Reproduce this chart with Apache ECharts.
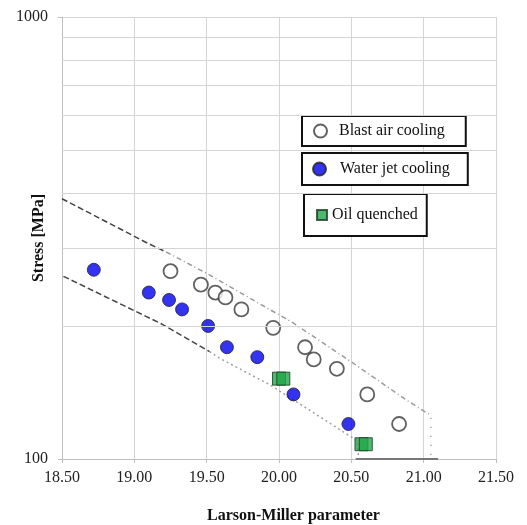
<!DOCTYPE html>
<html>
<head>
<meta charset="utf-8">
<script src="https://cdn.jsdelivr.net/npm/echarts@6/dist/echarts.min.js"></script>
<style>html,body{margin:0;padding:0;background:#fff}#c{width:527px;height:525px}</style>
</head>
<body>
<div id="c"></div>
<script>
// ---- data ----
const blastAir = [[19.25,266],[19.46,248],[19.56,238],[19.63,232],[19.74,218],[19.96,198],[20.18,179],[20.24,168],[20.40,160],[20.61,140],[20.83,120]];
const waterJet = [[18.72,268],[19.10,238],[19.24,229],[19.33,218],[19.51,200],[19.64,179],[19.85,170],[20.10,140],[20.48,120]];
const oilQuenched = [[20.00,152],[20.03,152],[20.57,108],[20.60,108]];
// scatter band boundaries
const upperDark = [[18.50,388],[19.09,308],[19.22,294]];
const upperLight = [[19.22,294],[19.50,263],[20.10,203],[20.51,165],[20.88,136],[21.04,126]];
const rightEdge = [[21.05,124],[21.05,102]];
const bottomEdge = [[20.53,100],[21.10,100]];
const lowerDark = [[18.51,259],[19.19,202],[19.52,175]];
const lowerLight = [[19.52,175],[19.59,169],[19.94,147],[20.54,110],[20.55,101]];
// axes
const xMin = 18.5, xMax = 21.5, xStep = 0.5;
const yMin = 100, yMax = 1000;
const yMinorGrid = [200,300,400,500,600,700,800,900];

const FONT = "'Liberation Serif','Times New Roman',serif";
const chart = echarts.init(document.getElementById('c'), null, {renderer:'canvas'});

function bandLine(data, color, type, width){
  return {type:'line', data:data, symbol:'none', silent:true, z:1,
    lineStyle:{color:color, type:type, width:width}, animation:false, legendHoverLink:false};
}

const legendBase = {
  orient:'horizontal', itemGap:0, selectedMode:false,
  borderColor:'#111', borderWidth:2, backgroundColor:'#fff',
};

chart.setOption({
  animation:false,
  grid:{left:62, right:31, top:17, bottom:66, containLabel:false, outerBoundsMode:'none'},
  xAxis:{
    type:'value', min:xMin, max:xMax, interval:xStep,
    name:'Larson-Miller parameter', nameLocation:'middle', nameGap:49, nameMoveOverlap:false,
    nameTextStyle:{fontFamily:FONT, fontSize:16, fontWeight:'bold', color:'#111', padding:[0,0,0,29]},
    axisLine:{show:true, lineStyle:{color:'#bfbfbf', width:1}},
    axisTick:{show:true, length:4, lineStyle:{color:'#bfbfbf'}},
    axisLabel:{fontFamily:FONT, fontSize:16, color:'#222', margin:11, formatter:v=>v.toFixed(2)},
    splitLine:{show:true, lineStyle:{color:'#d4d4d4', width:1}}
  },
  yAxis:{
    type:'log', logBase:10, min:yMin, max:yMax,
    name:'Stress [MPa]', nameLocation:'middle', nameGap:15, nameRotate:90, nameMoveOverlap:false,
    nameTextStyle:{fontFamily:FONT, fontSize:16, fontWeight:'bold', color:'#111'},
    axisLine:{show:true, lineStyle:{color:'#bfbfbf', width:1}},
    axisTick:{show:true, length:4, lineStyle:{color:'#bfbfbf'}},
    axisLabel:{fontFamily:FONT, fontSize:16, color:'#222', margin:14, formatter:v=>String(Math.round(v))},
    splitLine:{show:true, lineStyle:{color:'#d4d4d4', width:1}}
  },
  legend:[
    Object.assign({}, legendBase, {data:['Blast air cooling'], left:302, top:116,
      padding:[7,21,7,11], itemWidth:13, itemHeight:13,
      textStyle:{fontFamily:FONT, fontSize:16, color:'#111', padding:[0,0,0,7]}}),
    Object.assign({}, legendBase, {data:['Water jet cooling'], left:302, top:153,
      padding:[8,18,8,10], itemWidth:13, itemHeight:13,
      textStyle:{fontFamily:FONT, fontSize:16, color:'#111', padding:[0,0,0,9]}}),
    Object.assign({}, legendBase, {data:['Oil quenched'], left:304, top:194,
      padding:[13,9,13,12], itemWidth:10, itemHeight:10,
      textStyle:{fontFamily:FONT, fontSize:16, color:'#111'}})
  ],
  series:[
    {type:'line', data:[], silent:true, symbol:'none', z:0,
      markLine:{silent:true, symbol:'none', label:{show:false}, animation:false,
        lineStyle:{color:'#d4d4d4', type:'solid', width:1},
        data:yMinorGrid.map(v=>({yAxis:v}))}},
    bandLine(upperDark, '#444', [6,3], 1.5),
    bandLine(upperLight, '#9a9a9a', [5,3,1,3], 1.5),
    bandLine(rightEdge, '#888', [1,8], 1.5),
    bandLine(lowerDark, '#444', [6,3], 1.5),
    bandLine(lowerLight, '#a0a0a0', [2,3], 1.5),
    bandLine(bottomEdge, '#777', 'solid', 2),
    {name:'Blast air cooling', type:'scatter', data:blastAir, symbol:'circle', symbolSize:14, z:3,
      itemStyle:{color:'#ffffff', borderColor:'#3a3a3a', borderWidth:1.8}},
    {name:'Water jet cooling', type:'scatter', data:waterJet, symbol:'circle', symbolSize:13, z:3,
      itemStyle:{color:'#0000ee', borderColor:'#222', borderWidth:1}},
    {name:'Oil quenched', type:'scatter', data:oilQuenched, symbol:'rect', symbolSize:13, z:3,
      itemStyle:{color:'#22a84a', borderColor:'#1b3a22', borderWidth:1}}
  ]
});
</script>
</body>
</html>
